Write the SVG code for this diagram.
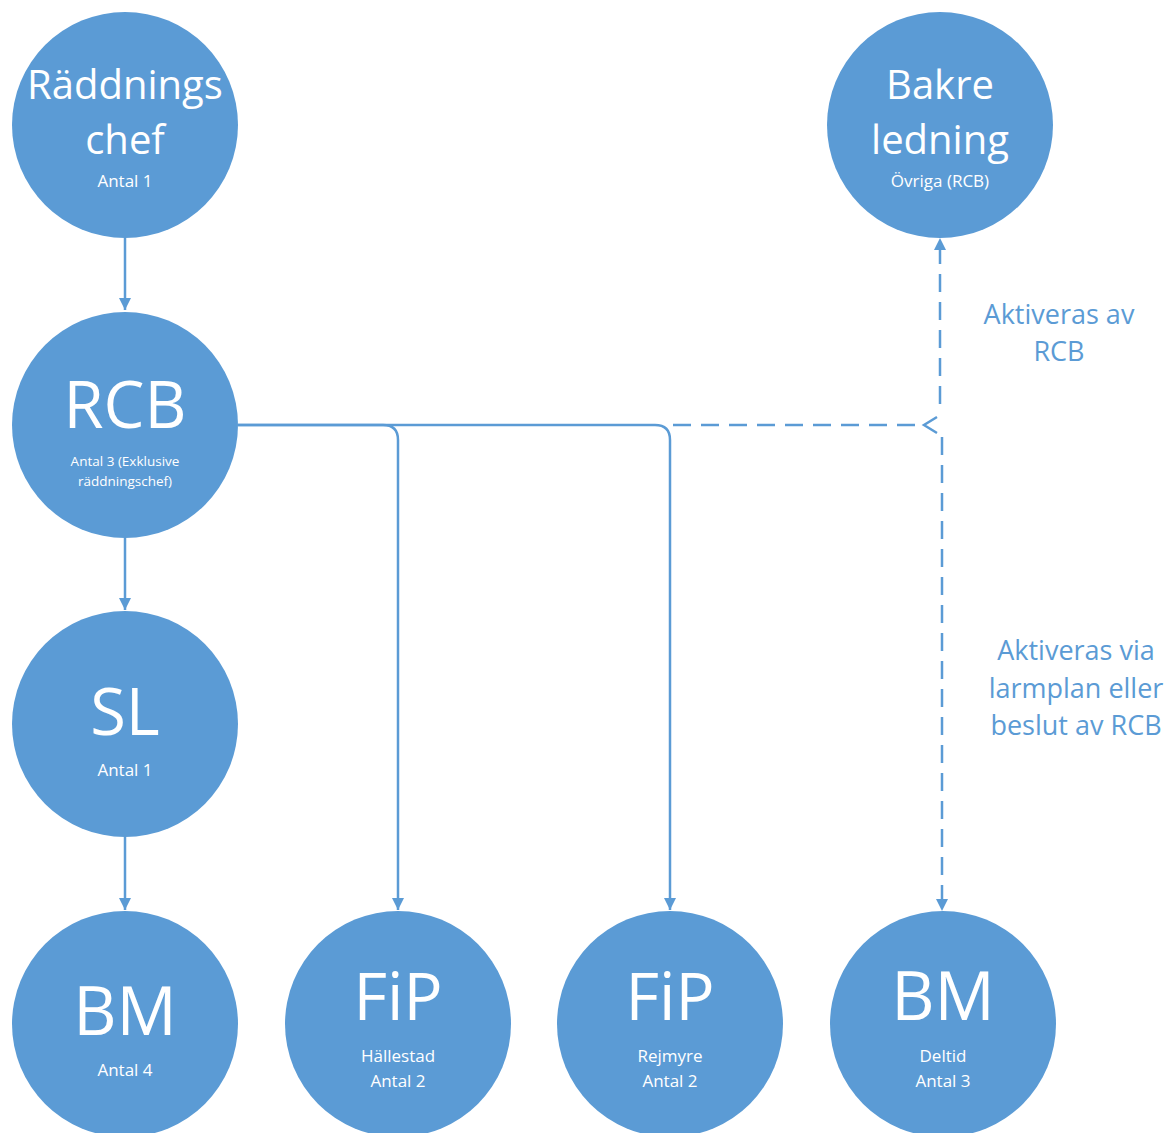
<svg xmlns="http://www.w3.org/2000/svg" width="1168" height="1133" viewBox="0 0 1168 1133">
<defs>
<style>
.node{fill:#5B9BD5}
.big{font-family:"Open Sans","Noto Sans",sans-serif;fill:#fff;text-anchor:middle}
.sm{font-family:"Open Sans","Noto Sans",sans-serif;fill:#fff;text-anchor:middle}
.lbl{font-family:"Open Sans","Noto Sans",sans-serif;fill:#5B9BD5;text-anchor:middle;font-size:27px}
.c{fill:none;stroke:#5B9BD5;stroke-width:2.5}
.d{stroke-dasharray:18 10}
</style>
<marker id="ah" viewBox="0 0 12 12" refX="12" refY="6" markerWidth="12" markerHeight="12" markerUnits="userSpaceOnUse" orient="auto">
<path d="M0,0 L12,6 L0,12 Z" fill="#5B9BD5"/>
</marker>
</defs>
<rect width="1168" height="1133" fill="#fff"/>
<g id="connectors">
<path class="c" d="M125,238 V310" marker-end="url(#ah)"/>
<path class="c" d="M125,538 V610" marker-end="url(#ah)"/>
<path class="c" d="M125,837 V910" marker-end="url(#ah)"/>
<path class="c" d="M238,425 H383 Q398,425 398,440 V910" marker-end="url(#ah)"/>
<path class="c" d="M238,425 H655 Q670,425 670,440 V910" marker-end="url(#ah)"/>
<path class="c d" d="M673,425 H916"/>
<polyline class="c" points="937,417 924,425 937,433"/>
<path class="c d" d="M940,404 V238" marker-end="url(#ah)"/>
<path class="c d" d="M942,437 V911" marker-end="url(#ah)"/>
</g>
<g id="n-raddningschef">
<circle class="node" cx="125" cy="125" r="113"/>
<text class="big" x="125" y="99" font-size="40">Räddnings</text>
<text class="big" x="125" y="154" font-size="40">chef</text>
<text class="sm" x="125" y="187" font-size="17">Antal 1</text>
</g>
<g id="n-bakre">
<circle class="node" cx="940" cy="125" r="113"/>
<text class="big" x="940" y="99" font-size="40">Bakre</text>
<text class="big" x="940" y="154" font-size="40">ledning</text>
<text class="sm" x="940" y="187" font-size="17">Övriga (RCB)</text>
</g>
<g id="n-rcb">
<circle class="node" cx="125" cy="425" r="113"/>
<text class="big" x="125" y="428" font-size="65">RCB</text>
<text class="sm" x="125" y="466" font-size="13.5">Antal 3 (Exklusive</text>
<text class="sm" x="125" y="486" font-size="13.5">räddningschef)</text>
</g>
<g id="n-sl">
<circle class="node" cx="125" cy="724" r="113"/>
<text class="big" x="125" y="735" font-size="65">SL</text>
<text class="sm" x="125" y="776" font-size="17">Antal 1</text>
</g>
<g id="n-bm1">
<circle class="node" cx="125" cy="1024" r="113"/>
<text class="big" x="125" y="1035" font-size="67">BM</text>
<text class="sm" x="125" y="1076" font-size="17">Antal 4</text>
</g>
<g id="n-fip1">
<circle class="node" cx="398" cy="1024" r="113"/>
<text class="big" x="398" y="1020" font-size="65">FiP</text>
<text class="sm" x="398" y="1062" font-size="17">Hällestad</text>
<text class="sm" x="398" y="1087" font-size="17">Antal 2</text>
</g>
<g id="n-fip2">
<circle class="node" cx="670" cy="1024" r="113"/>
<text class="big" x="670" y="1020" font-size="65">FiP</text>
<text class="sm" x="670" y="1062" font-size="17">Rejmyre</text>
<text class="sm" x="670" y="1087" font-size="17">Antal 2</text>
</g>
<g id="n-bm2">
<circle class="node" cx="943" cy="1024" r="113"/>
<text class="big" x="943" y="1020" font-size="67">BM</text>
<text class="sm" x="943" y="1062" font-size="17">Deltid</text>
<text class="sm" x="943" y="1087" font-size="17">Antal 3</text>
</g>
<g id="labels">
<text class="lbl" x="1059" y="324">Aktiveras av</text>
<text class="lbl" x="1059" y="361">RCB</text>
<text class="lbl" x="1076" y="660">Aktiveras via</text>
<text class="lbl" x="1076" y="698">larmplan eller</text>
<text class="lbl" x="1076" y="735">beslut av RCB</text>
</g>
</svg>
